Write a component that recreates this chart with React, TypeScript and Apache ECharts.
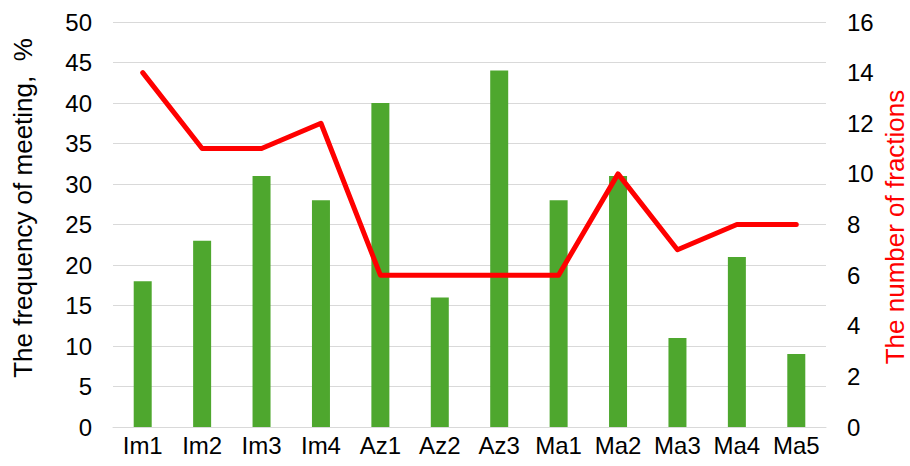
import React, { useEffect, useRef } from "react";
import * as echarts from "echarts";

const categories = ["Im1", "Im2", "Im3", "Im4", "Az1", "Az2", "Az3", "Ma1", "Ma2", "Ma3", "Ma4", "Ma5"];
const frequency = [18, 23, 31, 28, 40, 16, 44, 28, 31, 11, 21, 9];
const fractions = [14, 11, 11, 12, 6, 6, 6, 6, 10, 7, 8, 8];
const leftTitle = "The frequency of meeting,  %";
const rightTitle = "The number of fractions";

const FONT = "'Liberation Sans', Arial, sans-serif";

export default function App() {
  const ref = useRef<HTMLDivElement>(null);
  useEffect(() => {
    if (!ref.current) return;
    const chart = echarts.init(ref.current, undefined, { renderer: "svg" });
    chart.setOption({
      animation: false,
      backgroundColor: "#ffffff",
      textStyle: { fontFamily: FONT },
      grid: { left: 113, right: 84, top: 22, bottom: 39 },
      graphic: [
        {
          type: "text",
          x: 23,
          y: 208,
          rotation: Math.PI / 2,
          style: {
            text: leftTitle,
            fill: "#000",
            font: `26px ${FONT}`,
            align: "center",
            verticalAlign: "middle",
          },
        },
        {
          type: "text",
          x: 895,
          y: 227,
          rotation: Math.PI / 2,
          style: {
            text: rightTitle,
            fill: "#ff0000",
            font: `26px ${FONT}`,
            align: "center",
            verticalAlign: "middle",
          },
        },
      ],
      xAxis: {
        type: "category",
        data: categories,
        axisLine: { lineStyle: { color: "#d9d9d9", width: 1 } },
        axisTick: { show: false },
        axisLabel: { color: "#000", fontSize: 24, fontFamily: FONT, margin: 6, interval: 0 },
      },
      yAxis: [
        {
          type: "value",
          min: 0,
          max: 50,
          interval: 5,
          axisLine: { show: false },
          axisTick: { show: false },
          axisLabel: { color: "#000", fontSize: 24, fontFamily: FONT, margin: 21 },
          splitLine: { show: true, lineStyle: { color: "#d9d9d9", width: 1 } },
        },
        {
          type: "value",
          min: 0,
          max: 16,
          interval: 2,
          position: "right",
          axisLine: { show: false },
          axisTick: { show: false },
          axisLabel: { color: "#000", fontSize: 24, fontFamily: FONT, margin: 21 },
          splitLine: { show: false },
        },
      ],
      series: [
        {
          type: "bar",
          data: frequency,
          yAxisIndex: 0,
          barWidth: 18,
          itemStyle: { color: "#4ea72e" },
        },
        {
          type: "line",
          data: fractions,
          yAxisIndex: 1,
          symbol: "none",
          lineStyle: { color: "#ff0000", width: 5, cap: "round", join: "round" },
        },
      ],
    });
    return () => chart.dispose();
  }, []);
  return (
    <div
      ref={ref}
      style={{ position: "fixed", left: 0, top: 0, width: 910, height: 466, background: "#fff" }}
    />
  );
}
